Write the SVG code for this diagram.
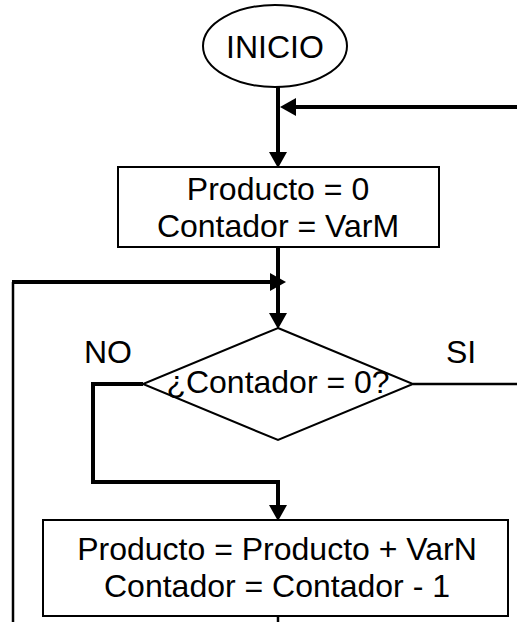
<svg xmlns="http://www.w3.org/2000/svg" width="517" height="622" viewBox="0 0 517 622">
  <style>
    .shape { fill: #ffffff; stroke: #000000; stroke-width: 2; }
    .label { font-family: "Liberation Sans", Arial, sans-serif; font-size: 32px; fill: #000000; text-anchor: middle; }
    .flow { fill: none; stroke: #000000; stroke-width: 4; stroke-linecap: butt; stroke-linejoin: miter; }
    .thin { fill: none; stroke: #000000; stroke-width: 2.5; }
  </style>
  <defs>
    <marker id="arrow" markerUnits="userSpaceOnUse" markerWidth="16" markerHeight="18" refX="0" refY="9" orient="auto">
      <path d="M0,0 L16,9 L0,18 z" fill="#000000"/>
    </marker>
  </defs>

  <rect width="517" height="622" fill="#ffffff"/>

  <!-- connectors -->
  <g id="connectors">
    <path class="flow" d="M278,87 V152" marker-end="url(#arrow)"/>
    <path class="flow" d="M517,107 H296" marker-end="url(#arrow)"/>
    <path class="flow" d="M278,247 V313" marker-end="url(#arrow)"/>
    <path class="thin" d="M278,616 V622"/>
    <path class="thin" d="M13,622 V282"/>
    <path class="flow" d="M12,282 H270" marker-end="url(#arrow)"/>
    <path class="flow" d="M143,384 H93 V482 H278 V505" marker-end="url(#arrow)"/>
    <path class="thin" d="M413,384 H517"/>
  </g>

  <!-- start terminal -->
  <g id="inicio">
    <ellipse class="shape" cx="275" cy="46" rx="72" ry="41"/>
    <text class="label" x="275" y="58">INICIO</text>
  </g>

  <!-- initialisation -->
  <g id="init">
    <rect class="shape" x="118" y="167" width="321" height="80"/>
    <text class="label" x="278" y="200">Producto = 0</text>
    <text class="label" x="278" y="237">Contador = VarM</text>
  </g>

  <!-- loop test -->
  <g id="decision">
    <polygon class="shape" points="278,328 413,384 278,440 143,384"/>
    <text class="label" x="278" y="393">¿Contador = 0?</text>
    <text class="label" x="108" y="363">NO</text>
    <text class="label" x="461" y="363">SI</text>
  </g>

  <!-- loop body -->
  <g id="body">
    <rect class="shape" x="43" y="520" width="465" height="96"/>
    <text class="label" x="277" y="560">Producto = Producto + VarN</text>
    <text class="label" x="277" y="597">Contador = Contador - 1</text>
  </g>
</svg>
